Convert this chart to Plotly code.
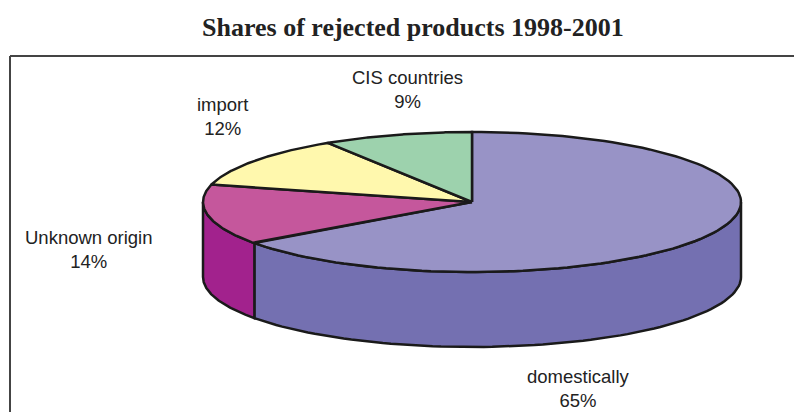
import numpy as np
import plotly.graph_objects as go

# ---- data ----
labels = ["domestically", "Unknown origin", "import", "CIS countries"]
shares = [65, 14, 12, 9]
top_colors = ["#9893C6", "#C5579C", "#FFF8AD", "#9DD2AD"]
side_colors = ["#7470B1", "#A2228D", "#E6DE8A", "#7FB893"]

# ---- geometry (pixel-like axis units) ----
W, H = 794, 412
cx, cy = 472, 202
rx, ry = 269, 70
depth = 75


def pt(theta_deg, dy=0.0):
    t = np.radians(theta_deg)
    return cx + rx * np.sin(t), cy - ry * np.cos(t) + dy


fig = go.Figure()

total = float(sum(shares))
starts = []
acc = 0.0
for v in shares:
    starts.append(acc / total * 360.0)
    acc += v
ends = starts[1:] + [360.0]

# sides (only front half 90..270 is visible)
for i in range(len(shares)):
    a, b = max(starts[i], 90.0), min(ends[i], 270.0)
    if b <= a:
        continue
    th = np.linspace(a, b, 80)
    xt, yt = pt(th)
    xb, yb = pt(th[::-1], depth)
    xs = np.concatenate([xt, xb, xt[:1]])
    ys = np.concatenate([yt, yb, yt[:1]])
    fig.add_trace(go.Scatter(x=xs, y=ys, mode="lines", fill="toself",
                             fillcolor=side_colors[i],
                             line=dict(color="#1a1a1a", width=2.5),
                             hoverinfo="skip", showlegend=False))

# top faces
for i in range(len(shares)):
    th = np.linspace(starts[i], ends[i], 120)
    xt, yt = pt(th)
    xs = np.concatenate([[cx], xt, [cx]])
    ys = np.concatenate([[cy], yt, [cy]])
    fig.add_trace(go.Scatter(x=xs, y=ys, mode="lines", fill="toself",
                             fillcolor=top_colors[i],
                             line=dict(color="#1a1a1a", width=2.5),
                             hoverinfo="skip", showlegend=False))

# label positions
label_pos = [(578, 388), (89, 249), (222, 116), (407, 89)]
for i, (lx, ly) in enumerate(label_pos):
    fig.add_annotation(x=lx, y=ly, xref="x", yref="y",
                       text=f"{labels[i]}<br>{shares[i]}%",
                       showarrow=False,
                       font=dict(family="Liberation Sans, Arial", size=18.5, color="#222"),
                       align="center")

fig.add_annotation(x=413, y=27, xref="x", yref="y",
                   text="<b>Shares of rejected products 1998-2001</b>",
                   showarrow=False,
                   font=dict(family="Liberation Serif, Times New Roman", size=26, color="#222"))

# frame
fig.add_shape(type="line", x0=10, y0=56, x1=W + 5, y1=56, xref="x", yref="y",
              line=dict(color="#444", width=2))
fig.add_shape(type="line", x0=10, y0=56, x1=10, y1=H + 5, xref="x", yref="y",
              line=dict(color="#444", width=2))

fig.update_layout(
    width=W, height=H,
    margin=dict(l=0, r=0, t=0, b=0),
    paper_bgcolor="white", plot_bgcolor="white",
    xaxis=dict(range=[0, W], visible=False, fixedrange=True),
    yaxis=dict(range=[H, 0], visible=False, fixedrange=True),
    showlegend=False,
)

fig.write_html("out.html")
